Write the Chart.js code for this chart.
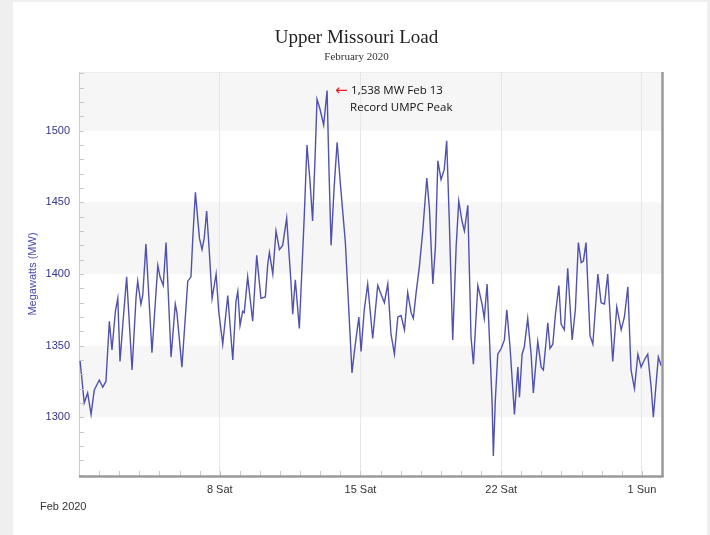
<!DOCTYPE html>
<html>
<head>
<meta charset="utf-8">
<script src="https://cdn.jsdelivr.net/npm/chart.js@4"></script>
<style>
  html, body { margin: 0; padding: 0; background: #efefef; }
  canvas { display: block; }
</style>
</head>
<body>
<canvas id="c" width="710" height="535"></canvas>
<script>
// ---- Data (days since Feb 1 2020 00:00, load in MW) ----
const dayOffsets = [
  0.05,0.26,0.43,0.60,0.76,1.01,1.18,1.34,1.51,1.64,1.81,1.93,2.04,2.17,2.37,2.64,2.84,2.92,3.08,3.17,
  3.33,3.63,3.92,4.03,4.19,4.33,4.58,4.79,4.87,5.12,5.41,5.57,5.66,5.79,5.99,6.12,6.23,6.35,6.48,6.62,
  6.82,6.95,7.15,7.40,7.65,7.81,7.90,8.01,8.14,8.22,8.39,8.64,8.84,9.05,9.27,9.39,9.47,9.64,9.80,9.97,
  10.13,10.33,10.55,10.63,10.76,10.96,11.21,11.34,11.49,11.62,11.74,11.84,11.99,12.17,12.34,12.44,12.54,12.69,12.84,12.99,
  13.25,13.58,13.70,13.92,14.03,14.19,14.36,14.61,14.86,15.02,15.19,15.36,15.52,15.69,15.86,16.02,16.19,16.35,16.52,16.63,
  16.77,16.93,17.10,17.30,17.43,17.60,17.73,17.85,18.01,18.17,18.29,18.42,18.59,18.76,18.89,19.05,19.17,19.34,19.50,19.62,
  19.84,20.05,20.16,20.30,20.45,20.55,20.61,20.71,20.83,21.00,21.16,21.28,21.44,21.66,21.83,21.91,22.04,22.15,22.32,22.49,
  22.60,22.82,22.99,23.10,23.32,23.43,23.57,23.70,23.87,23.98,24.14,24.31,24.53,24.69,24.84,24.98,25.09,25.22,25.42,25.56,
  25.81,25.97,26.14,26.30,26.55,26.75,26.97,27.13,27.30,27.46,27.63,27.80,27.96,28.12,28.29,28.46,28.57,28.71,28.82,28.96
];
const loadMW = [
  1340,1310,1317,1302,1319,1326,1321,1325,1367,1347,1374,1383,1339,1363,1398,1333,1384,1395,1379,1385,
  1421,1345,1406,1398,1392,1422,1342,1379,1373,1335,1395,1398,1425,1457,1425,1417,1425,1444,1416,1383,
  1400,1374,1351,1385,1340,1381,1388,1364,1374,1373,1398,1367,1413,1383,1384,1407,1415,1400,1430,1417,
  1420,1439,1393,1372,1396,1362,1442,1490,1465,1437,1480,1522,1515,1504,1528,1470,1420,1460,1492,1465,
  1422,1331,1346,1370,1346,1375,1393,1355,1392,1386,1380,1393,1358,1344,1370,1371,1361,1387,1373,1369,
  1387,1405,1430,1467,1446,1393,1419,1479,1466,1473,1493,1437,1354,1419,1451,1437,1430,1448,1356,1337,
  1392,1379,1369,1393,1344,1310,1273,1312,1344,1348,1354,1375,1349,1302,1335,1314,1344,1349,1369,1344,
  1317,1353,1335,1333,1366,1348,1351,1372,1392,1365,1361,1404,1354,1375,1422,1408,1409,1422,1357,1351,
  1400,1380,1379,1400,1339,1377,1361,1370,1391,1333,1320,1344,1335,1340,1344,1321,1300,1324,1342,1336
];
const xTickDays = [7, 14, 21, 28];
const xTickLabels = ['8 Sat', '15 Sat', '22 Sat', '1 Sun'];
const yLabelStep = 50;
const yMinorStep = 10;
const grayBands = [[1500, 1541], [1400, 1450], [1300, 1350]];
const peakDay = 12.34;
const peakValue = 1528;
const annotationLines = ['1,538 MW Feb 13', 'Record UMPC Peak'];
const titleText = 'Upper Missouri Load';
const subtitleText = 'February 2020';
const xPeriodLabel = 'Feb 2020';

const points = dayOffsets.map((d, i) => ({ x: d, y: loadMW[i] }));

const decor = {
  id: 'decor',
  beforeDraw(chart) {
    const { ctx, chartArea: a, scales: { x, y } } = chart;
    ctx.save();
    ctx.fillStyle = '#efefef';
    ctx.fillRect(0, 0, chart.width, chart.height);
    ctx.fillStyle = '#ffffff';
    ctx.fillRect(13, 2, 694, chart.height - 2);
    // bands
    ctx.fillStyle = '#f6f6f6';
    grayBands.forEach(([lo, hi]) => {
      const y1 = y.getPixelForValue(hi), y2 = y.getPixelForValue(lo);
      ctx.fillRect(a.left, Math.max(a.top, y1), a.right - a.left, y2 - Math.max(a.top, y1));
    });
    // faint top border
    ctx.strokeStyle = '#ececec';
    ctx.lineWidth = 1;
    ctx.beginPath();
    ctx.moveTo(a.left, a.top + 0.5);
    ctx.lineTo(a.right, a.top + 0.5);
    ctx.stroke();
    ctx.restore();
  },
  afterDatasetsDraw(chart) {
    const { ctx, chartArea: a, scales: { x, y } } = chart;
    ctx.save();
    // inner tick marks on y
    ctx.strokeStyle = '#c8c8c8';
    ctx.lineWidth = 1;
    ctx.beginPath();
    for (let v = Math.ceil(y.min / yMinorStep) * yMinorStep; v <= y.max; v += yMinorStep) {
      const py = Math.round(y.getPixelForValue(v)) + 0.5;
      ctx.moveTo(a.left, py);
      ctx.lineTo(a.left + 5, py);
    }
    // inner tick marks on x
    for (let d = 1; d < x.max; d++) {
      const px = Math.round(x.getPixelForValue(d)) + 0.5;
      ctx.moveTo(px, a.bottom);
      ctx.lineTo(px, a.bottom - 5);
    }
    ctx.stroke();
    // right border
    ctx.strokeStyle = '#9a9a9a';
    ctx.lineWidth = 2.5;
    ctx.beginPath();
    ctx.moveTo(a.right + 0.5, a.top);
    ctx.lineTo(a.right + 0.5, a.bottom + 1);
    ctx.stroke();
    // bottom axis
    ctx.beginPath();
    ctx.moveTo(a.left, a.bottom + 0.5);
    ctx.lineTo(a.right + 1.5, a.bottom + 0.5);
    ctx.stroke();
    ctx.restore();
  },
  afterDraw(chart) {
    const { ctx, chartArea: a, scales: { x, y } } = chart;
    ctx.save();
    const cx = (a.left + a.right) / 2;
    ctx.textAlign = 'center';
    ctx.textBaseline = 'middle';
    ctx.fillStyle = '#222222';
    ctx.font = '19px "Liberation Serif", "DejaVu Serif", serif';
    ctx.fillText(titleText, cx - 14, 38);
    ctx.fillStyle = '#333333';
    ctx.font = '11px "Liberation Serif", "DejaVu Serif", serif';
    ctx.fillText(subtitleText, cx - 14, 57);
    // period label
    ctx.textAlign = 'left';
    ctx.fillStyle = '#333333';
    ctx.font = '11px "Liberation Sans", Arial, sans-serif';
    ctx.fillText(xPeriodLabel, 40, 507);
    // annotation
    const px = x.getPixelForValue(peakDay);
    const py = y.getPixelForValue(peakValue);
    ctx.fillStyle = '#e02020';
    ctx.font = '15px "DejaVu Sans", sans-serif';
    ctx.fillText('\u2190', px + 8, py);
    ctx.fillStyle = '#111111';
    ctx.font = '11.5px "Open Sans", "Liberation Sans", sans-serif';
    ctx.fillText(annotationLines[0], px + 24, py);
    ctx.fillText(annotationLines[1], px + 23, py + 17);
    ctx.restore();
  }
};

new Chart(document.getElementById('c'), {
  type: 'line',
  data: {
    datasets: [{
      data: points,
      borderColor: 'rgba(50,50,160,0.85)',
      borderWidth: 1.4,
      pointRadius: 0,
      tension: 0,
      fill: false
    }]
  },
  options: {
    responsive: false,
    animation: false,
    events: [],
    layout: { padding: { left: 0, right: 48, top: 72, bottom: 0 } },
    plugins: { legend: { display: false }, tooltip: { enabled: false }, title: { display: false } },
    scales: {
      x: {
        type: 'linear',
        min: 0,
        max: 29,
        afterFit: s => { s.height = 59; },
        afterBuildTicks: s => { s.ticks = Array.from({ length: 30 }, (_, i) => ({ value: i })); },
        ticks: {
          autoSkip: false,
          maxRotation: 0,
          padding: 7,
          color: '#333333',
          font: { family: '"Liberation Sans", Arial, sans-serif', size: 11 },
          callback: v => { const k = xTickDays.indexOf(v); return k >= 0 ? xTickLabels[k] : ''; }
        },
        grid: {
          drawTicks: false,
          color: c => (c.tick && xTickDays.includes(c.tick.value)) ? '#e6e6e6' : 'rgba(0,0,0,0)'
        },
        border: { display: false }
      },
      y: {
        min: 1259,
        max: 1541,
        afterFit: s => { s.width = 79; },
        afterBuildTicks: s => {
          const t = [];
          for (let v = 1300; v <= 1500; v += yLabelStep) t.push({ value: v });
          s.ticks = t;
        },
        ticks: {
          autoSkip: false,
          padding: 9,
          color: '#34348a',
          font: { family: '"Liberation Sans", Arial, sans-serif', size: 11 },
          callback: v => String(v)
        },
        grid: { display: false, drawTicks: false },
        border: { display: true, color: '#cccccc', width: 1 },
        title: {
          display: true,
          text: 'Megawatts (MW)',
          color: '#4a4aaa',
          font: { family: '"Liberation Sans", Arial, sans-serif', size: 11 },
          padding: { top: 26, bottom: 0 }
        }
      }
    }
  },
  plugins: [decor]
});
</script>
</body>
</html>
